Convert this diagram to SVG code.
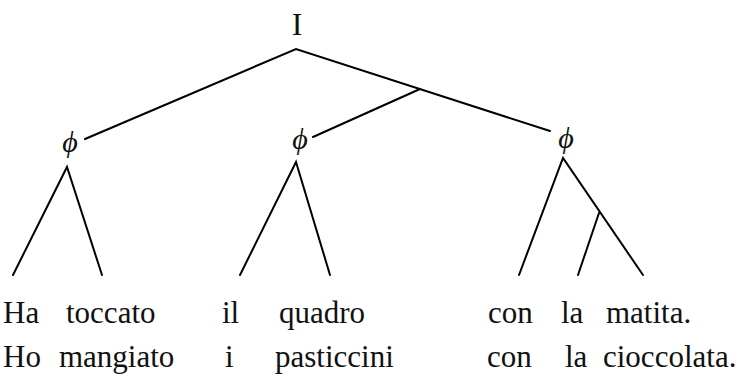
<svg xmlns="http://www.w3.org/2000/svg" width="739" height="383" viewBox="0 0 739 383">
<style>
.e{stroke:#000;stroke-width:2;fill:none;stroke-linecap:round}
text{font-family:"Liberation Serif","Times New Roman",Tinos,"DejaVu Serif",serif;fill:#111}
.w{font-size:31px}
.n{font-size:32px;text-anchor:middle}
.p{font-style:italic;font-size:30px;text-anchor:middle}
</style>
<rect width="739" height="383" fill="#fff"/>
<g id="edges">
<polyline class="e" points="85,139 296,49 550,131"/>
<line class="e" x1="420" y1="89" x2="313" y2="137"/>
<polyline class="e" points="13,275 67,167 102,275"/>
<polyline class="e" points="240,275 296,162 330,275"/>
<polyline class="e" points="519,275 563,158 643,275"/>
<line class="e" x1="599" y1="213" x2="578" y2="275"/>
</g>
<g id="root"><text class="n" x="297" y="35">I</text></g>
<g id="phi1"><text class="p" x="70" y="152">ϕ</text></g>
<g id="phi2"><text class="p" x="300" y="149">ϕ</text></g>
<g id="phi3"><text class="p" x="566" y="148">ϕ</text></g>
<g id="row1" class="w">
<text x="3" y="323">Ha</text>
<text x="66" y="323">toccato</text>
<text x="222" y="323">il</text>
<text x="279" y="323">quadro</text>
<text x="488" y="323">con</text>
<text x="561" y="323">la</text>
<text x="606" y="323">matita.</text>
</g>
<g id="row2" class="w">
<text x="3" y="367">Ho</text>
<text x="59" y="367">mangiato</text>
<text x="225" y="367">i</text>
<text x="275" y="367">pasticcini</text>
<text x="487" y="367">con</text>
<text x="565" y="367">la</text>
<text x="603" y="367">cioccolata.</text>
</g>
</svg>
